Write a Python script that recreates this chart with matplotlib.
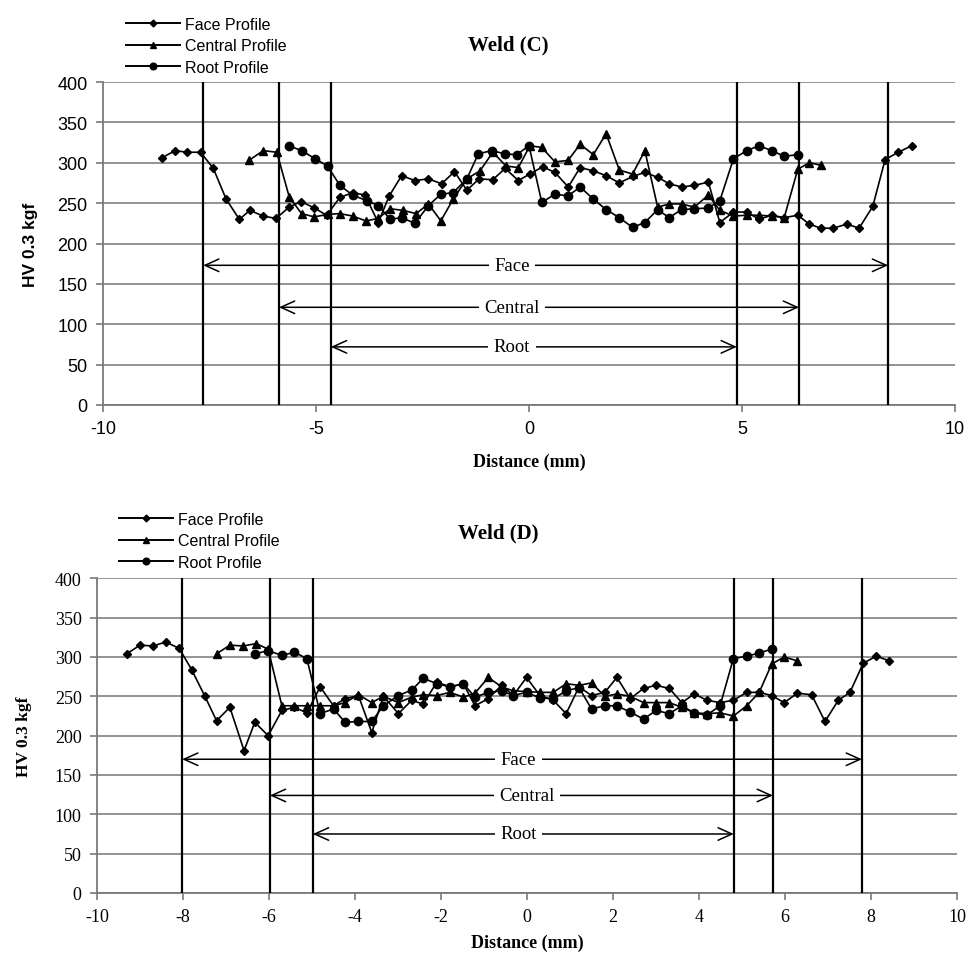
import matplotlib
matplotlib.use("Agg")
import matplotlib.pyplot as plt
from matplotlib.lines import Line2D

# ---------------- Weld (C) ----------------
c_face_x = [-8.62,-8.31,-8.02,-7.71,-7.41,-7.11,-6.80,-6.55,-6.24,-5.94,
            -5.63,-5.35,-5.04,-4.75,-4.44,-4.14,-3.85,-3.54,-3.28,-2.99,
            -2.68,-2.36,-2.05,-1.75,-1.46,-1.17,-0.85,-0.56,-0.25,0.02,
            0.32,0.61,0.92,1.20,1.51,1.81,2.12,2.43,2.72,3.02,
            3.29,3.58,3.88,4.21,4.48,4.80,5.11,5.40,5.70,5.99,
            6.31,6.58,6.85,7.14,7.46,7.75,8.07,8.36,8.67,8.98]
c_face_y = [306,315,313,313,293,255,230,241,234,231,
            245,252,244,235,257,263,260,226,259,284,
            278,280,274,289,266,280,279,293,278,286,
            295,288,270,294,290,284,275,283,288,282,
            274,270,272,276,226,239,239,230,235,232,
            235,224,219,219,224,219,246,304,313,321]

c_central_x = [-6.57,-6.24,-5.92,-5.63,-5.34,-5.04,-4.73,-4.44,-4.14,-3.83,
               -3.54,-3.26,-2.95,-2.65,-2.36,-2.07,-1.78,-1.46,-1.15,-0.85,
               -0.54,-0.25,0.02,0.30,0.61,0.92,1.20,1.51,1.81,2.12,
               2.43,2.72,3.02,3.29,3.58,3.88,4.21,4.48,4.80,5.11,
               5.40,5.70,5.99,6.31,6.58,6.85]
c_central_y = [303,315,313,258,237,233,236,237,234,228,
               231,243,241,237,249,228,255,280,290,313,
               296,294,321,319,301,303,323,310,336,291,
               286,315,245,249,249,245,260,241,234,235,
               235,234,232,292,300,297]

c_root_x = [-5.63,-5.34,-5.02,-4.73,-4.44,-4.14,-3.81,-3.54,-3.26,-2.99,
            -2.68,-2.36,-2.07,-1.78,-1.46,-1.19,-0.88,-0.56,-0.29,0.0,
            0.30,0.61,0.92,1.20,1.51,1.81,2.12,2.43,2.72,3.02,
            3.29,3.58,3.88,4.21,4.48,4.80,5.11,5.40,5.70,5.99,6.31]
c_root_y = [321,315,305,296,272,260,253,247,230,232,
            225,247,261,263,280,311,315,311,310,321,
            251,261,259,270,255,242,232,220,226,242,
            232,242,243,244,253,305,315,321,315,308,310]

c_vlines = [-7.65, -5.87, -4.65, 4.88, 6.34, 8.43]
c_zones = [("Face", -7.65, 8.43, 173, -0.4),
           ("Central", -5.87, 6.34, 121, -0.4),
           ("Root", -4.65, 4.88, 72, -0.4)]

# ---------------- Weld (D) ----------------
d_face_x = [-9.31,-9.00,-8.70,-8.40,-8.09,-7.80,-7.49,-7.22,-6.91,-6.58,
            -6.33,-6.02,-5.70,-5.41,-5.12,-4.81,-4.50,-4.23,-3.92,-3.61,
            -3.34,-2.99,-2.68,-2.41,-2.10,-1.79,-1.48,-1.21,-0.90,-0.59,
            -0.32,-0.01,0.30,0.61,0.91,1.21,1.50,1.81,2.09,2.40,
            2.71,3.00,3.31,3.60,3.89,4.18,4.49,4.80,5.11,5.40,
            5.69,5.98,6.29,6.62,6.93,7.24,7.51,7.82,8.12,8.43]
d_face_y = [304,315,314,319,311,284,250,219,236,181,
            217,200,232,236,229,262,238,247,251,204,
            250,228,245,240,268,262,266,238,247,264,
            251,274,251,245,228,262,251,255,274,247,
            260,264,260,242,253,245,242,245,255,255,
            251,242,254,252,218,245,255,292,301,295]

d_central_x = [-7.22,-6.91,-6.60,-6.30,-6.02,-5.70,-5.41,-5.12,-4.81,-4.50,
               -4.23,-3.92,-3.61,-3.34,-2.99,-2.68,-2.41,-2.10,-1.79,-1.48,
               -1.21,-0.90,-0.59,-0.32,-0.01,0.30,0.61,0.91,1.21,1.50,
               1.81,2.09,2.40,2.71,3.00,3.31,3.60,3.89,4.18,4.49,
               4.80,5.11,5.40,5.69,5.98,6.29]
d_central_y = [304,315,314,317,310,238,238,238,238,238,
               242,252,242,250,242,249,252,251,255,249,
               254,274,262,257,256,255,255,266,264,267,
               250,253,250,242,242,242,236,229,228,229,
               225,238,255,291,300,295]

d_root_x = [-6.33,-6.02,-5.70,-5.41,-5.12,-4.81,-4.50,-4.23,-3.92,-3.61,
            -3.34,-2.99,-2.68,-2.41,-2.10,-1.79,-1.48,-1.21,-0.90,-0.59,
            -0.32,-0.01,0.30,0.61,0.91,1.21,1.50,1.81,2.09,2.40,
            2.71,3.00,3.31,3.60,3.89,4.18,4.49,4.80,5.11,5.40,5.69]
d_root_y = [304,308,302,306,298,228,234,217,218,218,
            238,251,258,273,266,262,266,249,255,257,
            251,255,248,247,257,261,234,238,238,230,
            221,232,228,238,229,226,238,298,301,305,310]

d_vlines = [-8.02, -5.98, -4.98, 4.81, 5.72, 7.79]
d_zones = [("Face", -8.02, 7.79, 170, -0.2),
           ("Central", -5.98, 5.72, 124, 0.0),
           ("Root", -4.98, 4.81, 75, -0.2)]

series_labels = ["Face Profile", "Central Profile", "Root Profile"]
series_markers = ["D", "^", "o"]
series_msize = [4.3, 5.5, 6.0]

W, H = 971, 954
fig = plt.figure(figsize=(W/100, H/100), dpi=100)

serif = "Liberation Serif"
sans = "Liberation Sans"


def make_panel(rect, data, vlines, zones, xticks, title, title_xy, ylab_x,
               xlab_y, legend_xy, tick_family):
    ax = fig.add_axes(rect)
    ax.set_xlim(-10, 10)
    ax.set_ylim(0, 400)
    ax.set_yticks(range(0, 401, 50))
    ax.set_xticks(xticks)
    ax.grid(axis="y", color="#8a8a8a", lw=1.3)
    ax.set_axisbelow(True)
    for s in ["top", "right"]:
        ax.spines[s].set_visible(False)
    for s in ["left", "bottom"]:
        ax.spines[s].set_color("#7a7a7a")
        ax.spines[s].set_linewidth(1.3)
    ax.tick_params(axis="both", direction="out", length=5, color="#7a7a7a",
                   width=1.2, labelsize=13, pad=6)
    ax.set_xticklabels([str(t) for t in xticks])
    for lab in ax.get_xticklabels() + ax.get_yticklabels():
        lab.set_fontfamily(tick_family)

    for v in vlines:
        ax.plot([v, v], [0, 400], color="black", lw=1.6, zorder=3)

    handles = []
    for (xs, ys), lab, mk, ms in zip(data, series_labels, series_markers, series_msize):
        ax.plot(xs, ys, color="black", lw=1.2, marker=mk, ms=ms,
                label=lab, zorder=4, clip_on=False)
        handles.append(Line2D([], [], color="black", lw=1.4, marker=mk,
                              ms=ms * 0.8, label=lab))

    for name, x0, x1, y, tx in zones:
        ax.annotate("", xy=(x0, y), xytext=(x1, y),
                    arrowprops=dict(arrowstyle="<->,head_length=1.0,head_width=0.45",
                                    color="black", lw=1.1, shrinkA=0, shrinkB=0),
                    zorder=5)
        ax.text(tx, y, name, ha="center", va="center", fontsize=13.5,
                family=serif, zorder=6,
                bbox=dict(facecolor="white", edgecolor="none", pad=4))

    fig.text(title_xy[0] / W, 1 - title_xy[1] / H, title, ha="center",
             va="center", fontsize=15, fontweight="bold", family=serif)
    fig.text(ylab_x / W, rect[1] + rect[3] / 2, "HV 0.3 kgf", rotation=90,
             ha="center", va="center", fontsize=12.5, fontweight="bold",
             family=tick_family)
    fig.text(rect[0] + rect[2] / 2, 1 - xlab_y / H, "Distance (mm)",
             ha="center", va="center", fontsize=13, fontweight="bold",
             family=serif)
    fig.legend(handles=handles, loc="upper left",
               bbox_to_anchor=(legend_xy[0] / W, 1 - legend_xy[1] / H),
               frameon=False, handlelength=3.4, handletextpad=0.3,
               labelspacing=0.4, borderpad=0, numpoints=1,
               prop={"family": sans, "size": 11.5})
    return ax


make_panel([103 / W, 1 - 406 / H, 852 / W, 323 / H],
           [(c_face_x, c_face_y), (c_central_x, c_central_y), (c_root_x, c_root_y)],
           c_vlines, c_zones, [-10, -5, 0, 5, 10], "Weld (C)", (508, 45), 30,
           462, (118, 10), sans)

make_panel([97 / W, 1 - 894 / H, 860 / W, 314.7 / H],
           [(d_face_x, d_face_y), (d_central_x, d_central_y), (d_root_x, d_root_y)],
           d_vlines, d_zones, list(range(-10, 11, 2)), "Weld (D)", (498, 533), 24,
           943, (111, 505), serif)

fig.savefig("out.png", dpi=100)
